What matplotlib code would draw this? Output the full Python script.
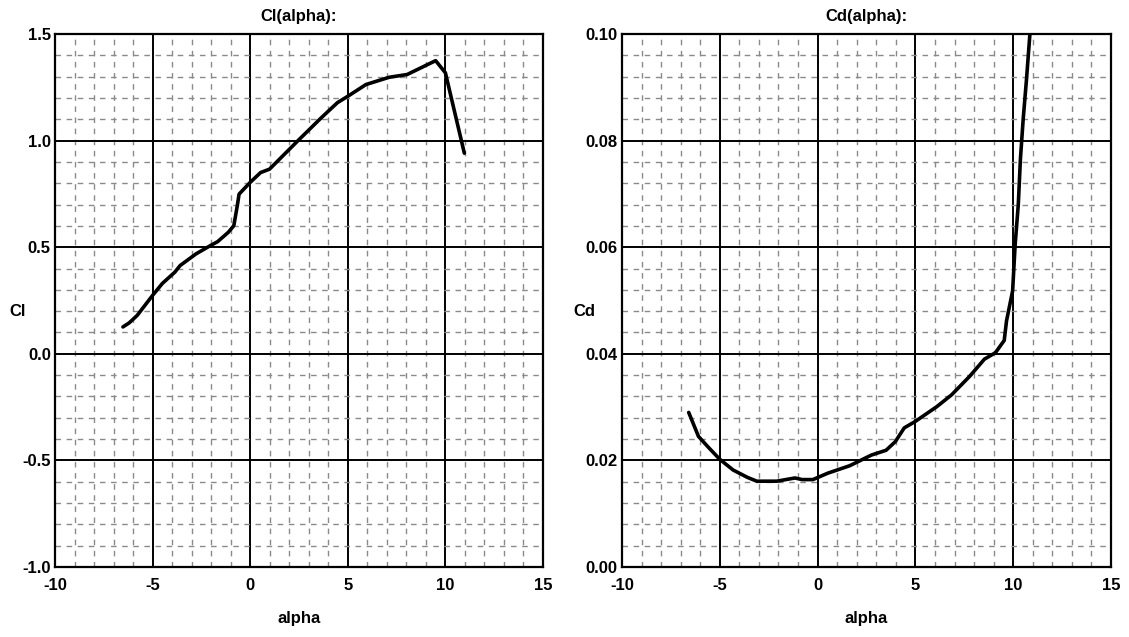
import matplotlib
matplotlib.use("Agg")
import matplotlib.pyplot as plt
from matplotlib.ticker import MultipleLocator, FixedLocator

plt.rcParams['font.family'] = ['Liberation Sans', 'DejaVu Sans']
plt.rcParams['font.weight'] = 'bold'

# Cl(alpha) data
cl_alpha = [-6.52, -6.2, -5.79, -5.0, -4.5, -3.86, -3.59, -2.77, -2.03, -1.67, -1.12,
            -0.84, -0.66, -0.57, 0.0, 0.53, 0.99, 2.45, 3.64, 4.47, 5.02, 5.93,
            7.12, 8.04, 9.5, 10.0, 10.97]
cl_values = [0.126, 0.145, 0.18, 0.274, 0.33, 0.383, 0.414, 0.469, 0.508, 0.526, 0.57,
             0.601, 0.695, 0.749, 0.804, 0.85, 0.866, 1.0, 1.107, 1.178, 1.209, 1.263,
             1.297, 1.31, 1.375, 1.318, 0.941]

# Cd(alpha) data
cd_alpha = [-6.59, -6.09, -5.62, -5.0, -4.32, -3.58, -3.11, -2.09, -1.16, -0.79, -0.24,
            0.52, 1.64, 2.75, 3.5, 3.97, 4.43, 4.99, 6.1, 6.85, 7.78, 8.53, 9.09,
            9.54, 9.66, 9.97, 10.1, 10.26, 10.37, 10.51, 10.68, 10.85]
cd_values = [0.029, 0.0245, 0.0226, 0.0202, 0.0182, 0.0168, 0.0161, 0.0161, 0.0167, 0.0164, 0.0164,
             0.0176, 0.019, 0.021, 0.0219, 0.0235, 0.0261, 0.0273, 0.0301, 0.0323, 0.0358, 0.039, 0.0402,
             0.0425, 0.0462, 0.0518, 0.0605, 0.068, 0.0766, 0.084, 0.0915, 0.0998]

x_ticks = [-10, -5, 0, 5, 10, 15]
cl_ticks = [-1.0, -0.5, 0.0, 0.5, 1.0, 1.5]
cd_ticks = [0.00, 0.02, 0.04, 0.06, 0.08, 0.10]

W, H = 1129, 637
fig = plt.figure(figsize=(W / 100, H / 100), dpi=100)

def px_axes(l, r, t, b):
    return fig.add_axes([l / W, (H - b) / H, (r - l) / W, (b - t) / H])

ax1 = px_axes(55, 543, 34, 567)
ax2 = px_axes(622, 1111, 34, 567)

def style(ax, yticks, yminor, ylim, fmt, title, ylabel, ypad):
    ax.set_xlim(-10, 15)
    ax.set_ylim(*ylim)
    ax.xaxis.set_major_locator(FixedLocator(x_ticks))
    ax.yaxis.set_major_locator(FixedLocator(yticks))
    ax.xaxis.set_minor_locator(MultipleLocator(1))
    ax.yaxis.set_minor_locator(MultipleLocator(yminor))
    ax.set_yticklabels([fmt.format(v) for v in yticks])
    ax.set_xticklabels([str(v) for v in x_ticks])
    ax.grid(which='minor', color='#8a8a8a', linestyle=(0, (4, 4)), linewidth=1.0)
    ax.grid(which='major', color='black', linestyle='-', linewidth=1.4)
    ax.set_axisbelow(True)
    ax.tick_params(which='both', length=0)
    ax.tick_params(axis='x', pad=8, labelsize=12)
    ax.tick_params(axis='y', pad=3, labelsize=12)
    for lab in ax.get_xticklabels() + ax.get_yticklabels():
        lab.set_fontweight('bold')
    for s in ax.spines.values():
        s.set_linewidth(1.6)
        s.set_color('black')
    ax.set_title(title, fontsize=12, fontweight='bold', pad=9)
    ax.set_xlabel('alpha', fontsize=12, fontweight='bold', labelpad=13)
    ax.set_ylabel(ylabel, fontsize=12, fontweight='bold', rotation=0, ha='center', va='center')
    ax.yaxis.set_label_coords(-0.076, 0.48)

style(ax1, cl_ticks, 0.1, (-1.0, 1.5), '{:.1f}', 'Cl(alpha):', 'Cl', 3)
style(ax2, cd_ticks, 0.004, (0.0, 0.10), '{:.2f}', 'Cd(alpha):', 'Cd', 3)

ax1.plot(cl_alpha, cl_values, color='black', linewidth=2.6, solid_joinstyle='round',
         solid_capstyle='round', zorder=5)
ax2.plot(cd_alpha, cd_values, color='black', linewidth=2.6, solid_joinstyle='round',
         solid_capstyle='round', zorder=5)

fig.savefig('out.png', dpi=100)
